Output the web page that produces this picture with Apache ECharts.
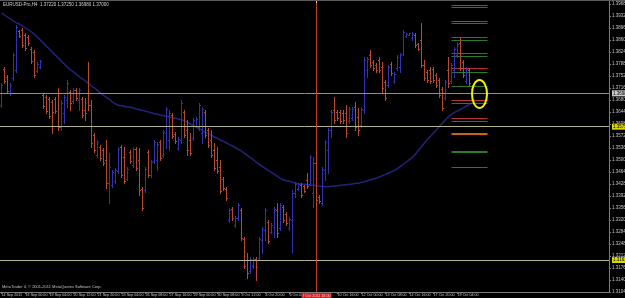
<!DOCTYPE html>
<html><head><meta charset="utf-8">
<script src="https://cdn.jsdelivr.net/npm/echarts@6/dist/echarts.min.js"></script>
<style>html,body{margin:0;padding:0;background:#000}#c{width:625px;height:298px}</style>
</head><body><div id="c"></div>
<script>
// ---------------- data ----------------
const symbolName = 'EURUSD-Pro,H4';
const copyrightText = 'MetaTrader 4, \u00a9 2001-2011 MetaQuotes Software Corp.';
// time-axis labels, one every 8 H4 bars starting at bar 0 ('' = hidden under the line label)
const timeLabels = ['14 Sep 2011','16 Sep 00:00','19 Sep 04:00','20 Sep 12:00','21 Sep 20:00',
  '23 Sep 04:00','26 Sep 08:00','27 Sep 16:00','29 Sep 00:00','30 Sep 08:00','3 Oct 12:00',
  '4 Oct 20:00','6 Oct 04:00','','10 Oct 16:00','12 Oct 00:00','13 Oct 08:00','14 Oct 16:00',
  '17 Oct 20:00','19 Oct 04:00'];
const labelEvery = 8;
const slotCount = 203; // visible bar slots incl. chart shift
// [open, high, low, close]
const ohlc = [
[1.3665,1.3731,1.3659,1.3725],[1.3773,1.3779,1.3731,1.3737],[1.3749,1.3755,1.3701,1.3707],[1.3701,1.3731,1.3695,1.3725],
[1.3746,1.3821,1.3740,1.3815],[1.3770,1.3905,1.3764,1.3899],[1.3887,1.3890,1.3869,1.3872],[1.3890,1.3896,1.3839,1.3845],
[1.3875,1.3881,1.3830,1.3836],[1.3869,1.3875,1.3845,1.3851],[1.3833,1.3839,1.3791,1.3797],[1.3824,1.3830,1.3749,1.3755],
[1.3767,1.3794,1.3764,1.3788],[1.3779,1.3800,1.3776,1.3797],[1.3695,1.3701,1.3656,1.3662],[1.3689,1.3695,1.3641,1.3647],
[1.3683,1.3689,1.3626,1.3632],[1.3674,1.3680,1.3581,1.3645],[1.3683,1.3689,1.3641,1.3647],[1.3700,1.3716,1.3590,1.3600],
[1.3600,1.3680,1.3590,1.3670],[1.3640,1.3695,1.3611,1.3689],[1.3680,1.3740,1.3659,1.3730],[1.3704,1.3710,1.3650,1.3670],
[1.3677,1.3716,1.3671,1.3710],[1.3710,1.3716,1.3680,1.3686],[1.3680,1.3716,1.3650,1.3710],[1.3683,1.3689,1.3629,1.3635],
[1.3650,1.3686,1.3620,1.3640],[1.3700,1.3794,1.3650,1.3665],[1.3665,1.3680,1.3539,1.3550],[1.3575,1.3581,1.3524,1.3530],
[1.3515,1.3560,1.3509,1.3554],[1.3539,1.3545,1.3500,1.3506],[1.3530,1.3536,1.3485,1.3491],[1.3500,1.3560,1.3416,1.3430],
[1.3430,1.3521,1.3371,1.3480],[1.3425,1.3470,1.3419,1.3464],[1.3437,1.3476,1.3431,1.3470],[1.3467,1.3539,1.3461,1.3533],
[1.3539,1.3545,1.3449,1.3455],[1.3510,1.3539,1.3431,1.3437],[1.3443,1.3479,1.3440,1.3473],[1.3524,1.3530,1.3491,1.3497],
[1.3485,1.3539,1.3479,1.3533],[1.3533,1.3539,1.3470,1.3476],[1.3500,1.3536,1.3395,1.3410],[1.3413,1.3419,1.3350,1.3356],
[1.3410,1.3479,1.3404,1.3473],[1.3524,1.3530,1.3449,1.3455],[1.3455,1.3500,1.3449,1.3494],[1.3497,1.3560,1.3491,1.3554],
[1.3500,1.3554,1.3470,1.3548],[1.3554,1.3560,1.3500,1.3506],[1.3515,1.3590,1.3509,1.3584],[1.3580,1.3659,1.3536,1.3653],
[1.3560,1.3650,1.3530,1.3640],[1.3635,1.3641,1.3566,1.3572],[1.3578,1.3584,1.3551,1.3557],[1.3536,1.3569,1.3530,1.3563],
[1.3560,1.3680,1.3551,1.3670],[1.3644,1.3650,1.3569,1.3575],[1.3590,1.3620,1.3515,1.3530],[1.3560,1.3581,1.3515,1.3521],
[1.3566,1.3626,1.3560,1.3620],[1.3602,1.3629,1.3599,1.3623],[1.3600,1.3671,1.3590,1.3665],[1.3580,1.3659,1.3551,1.3653],
[1.3644,1.3650,1.3569,1.3575],[1.3590,1.3596,1.3539,1.3545],[1.3560,1.3590,1.3509,1.3515],[1.3530,1.3551,1.3470,1.3476],
[1.3500,1.3539,1.3461,1.3467],[1.3480,1.3500,1.3401,1.3407],[1.3443,1.3449,1.3410,1.3416],[1.3413,1.3419,1.3380,1.3386],
[1.3320,1.3356,1.3314,1.3350],[1.3353,1.3359,1.3320,1.3326],[1.3305,1.3332,1.3299,1.3326],[1.3326,1.3371,1.3320,1.3365],
[1.3350,1.3356,1.3260,1.3266],[1.3263,1.3269,1.3176,1.3182],[1.3200,1.3221,1.3146,1.3160],[1.3167,1.3209,1.3161,1.3203],
[1.3182,1.3209,1.3176,1.3203],[1.3203,1.3209,1.3140,1.3180],[1.3206,1.3269,1.3200,1.3263],[1.3260,1.3299,1.3221,1.3293],
[1.3290,1.3356,1.3260,1.3350],[1.3314,1.3320,1.3251,1.3257],[1.3284,1.3311,1.3281,1.3305],[1.3300,1.3359,1.3269,1.3353],
[1.3350,1.3371,1.3269,1.3280],[1.3296,1.3371,1.3290,1.3365],[1.3359,1.3365,1.3314,1.3320],[1.3338,1.3344,1.3305,1.3311],
[1.3296,1.3329,1.3290,1.3323],[1.3320,1.3410,1.3224,1.3400],[1.3400,1.3434,1.3389,1.3428],[1.3413,1.3431,1.3410,1.3428],
[1.3425,1.3431,1.3389,1.3395],[1.3422,1.3425,1.3404,1.3407],[1.3440,1.3461,1.3416,1.3422],[1.3428,1.3515,1.3425,1.3509],
[1.3400,1.3509,1.3359,1.3490],[1.3490,1.3500,1.3344,1.3380],[1.3389,1.3395,1.3371,1.3377],[1.3371,1.3479,1.3365,1.3473],
[1.3470,1.3560,1.3440,1.3554],[1.3530,1.3596,1.3461,1.3590],[1.3590,1.3650,1.3569,1.3644],[1.3650,1.3689,1.3611,1.3620],
[1.3644,1.3650,1.3620,1.3626],[1.3644,1.3650,1.3611,1.3617],[1.3640,1.3650,1.3611,1.3620],[1.3640,1.3665,1.3569,1.3580],
[1.3617,1.3659,1.3611,1.3653],[1.3626,1.3659,1.3620,1.3653],[1.3660,1.3674,1.3590,1.3600],[1.3630,1.3656,1.3575,1.3590],
[1.3605,1.3659,1.3599,1.3653],[1.3650,1.3809,1.3641,1.3800],[1.3770,1.3809,1.3749,1.3803],[1.3815,1.3830,1.3779,1.3785],
[1.3794,1.3800,1.3770,1.3776],[1.3785,1.3791,1.3764,1.3770],[1.3800,1.3809,1.3764,1.3770],[1.3780,1.3794,1.3704,1.3715],
[1.3734,1.3740,1.3680,1.3686],[1.3725,1.3785,1.3719,1.3779],[1.3788,1.3794,1.3755,1.3761],[1.3737,1.3764,1.3731,1.3758],
[1.3776,1.3815,1.3770,1.3809],[1.3780,1.3821,1.3764,1.3815],[1.3818,1.3890,1.3815,1.3884],[1.3872,1.3881,1.3869,1.3878],
[1.3876,1.3881,1.3875,1.3880],[1.3866,1.3884,1.3860,1.3878],[1.3875,1.3881,1.3839,1.3845],[1.3848,1.3851,1.3830,1.3833],
[1.3860,1.3911,1.3779,1.3785],[1.3785,1.3800,1.3740,1.3746],[1.3764,1.3770,1.3734,1.3740],[1.3770,1.3779,1.3731,1.3737],
[1.3773,1.3779,1.3734,1.3740],[1.3755,1.3761,1.3719,1.3725],[1.3740,1.3746,1.3689,1.3695],[1.3713,1.3719,1.3650,1.3656],
[1.3686,1.3740,1.3680,1.3734],[1.3770,1.3809,1.3719,1.3730],[1.3737,1.3791,1.3731,1.3785],[1.3770,1.3839,1.3749,1.3833],
[1.3815,1.3854,1.3809,1.3848],[1.3850,1.3866,1.3770,1.3776],[1.3794,1.3800,1.3749,1.3755],[1.3737,1.3779,1.3731,1.3773],
[1.3770,1.3776,1.3725,1.3731],[1.3722,1.3725,1.3698,1.3700]
];
// moving average
const ma = [1.3941,1.3935,1.3929,1.3923,1.3917,1.3911,1.3908,1.3902,1.3896,1.3890,
1.3884,1.3877,1.3868,1.3859,1.3850,1.3841,1.3832,1.3823,1.3814,1.3805,
1.3796,1.3787,1.3778,1.3770,1.3764,1.3757,1.3749,1.3743,1.3737,1.3730,
1.3722,1.3716,1.3709,1.3701,1.3694,1.3688,1.3682,1.3674,1.3668,1.3664,
1.3663,1.3661,1.3659,1.3658,1.3656,1.3653,1.3651,1.3649,1.3646,1.3644,
1.3642,1.3639,1.3637,1.3635,1.3633,1.3631,1.3629,1.3627,1.3625,1.3623,
1.3621,1.3618,1.3613,1.3608,1.3603,1.3598,1.3593,1.3588,1.3583,1.3579,
1.3574,1.3569,1.3565,1.3560,1.3556,1.3551,1.3546,1.3542,1.3537,1.3532,
1.3527,1.3520,1.3513,1.3507,1.3500,1.3493,1.3487,1.3480,1.3474,1.3468,
1.3463,1.3457,1.3451,1.3445,1.3440,1.3438,1.3436,1.3433,1.3431,1.3429,
1.3427,1.3427,1.3426,1.3424,1.3424,1.3423,1.3421,1.3421,1.3420,1.3420,
1.3421,1.3422,1.3423,1.3424,1.3425,1.3426,1.3427,1.3428,1.3430,1.3430,
1.3433,1.3435,1.3438,1.3441,1.3443,1.3446,1.3449,1.3453,1.3457,1.3461,
1.3465,1.3469,1.3474,1.3481,1.3488,1.3494,1.3501,1.3508,1.3518,1.3529,
1.3540,1.3551,1.3562,1.3571,1.3581,1.3591,1.3601,1.3611,1.3621,1.3630,
1.3637,1.3643,1.3647,1.3652,1.3657,1.3662,1.3667,1.3671];
const bidPrice = 1.3698;
const yellowLevels = [1.3575, 1.3161];
const pivotRed = [1.3965, 1.3918, 1.3870, 1.3822, 1.3775, 1.3680, 1.3625, 1.3528, 1.3480];
const pivotGreen = [1.3960, 1.3910, 1.3860, 1.3812, 1.3765, 1.3722, 1.3670, 1.3618, 1.3523];
const pivotOrange = [1.3577];
const vLineBar = 105;
const vLineLabel = '7 Oct 2011 16:00';
// price axis
const priceMin = 1.3104, priceMax = 1.3980, priceStep = 0.0036;
// pivot segment span (bar slots) and highlight ellipse (bar slot, price)
const pivotFrom = 150, pivotTo = 162;
const ellipseBar = 159, ellipsePrice = 1.3698;

// ---------------- chart ----------------
const FONT = 'Liberation Sans';
const UP = '#3232b4', DOWN = '#b84830', MA_C = '#23237e';
const slots = Array.from({length: slotCount}, (_, i) => String(i));
const labelMap = {};
timeLabels.forEach((t, j) => { labelMap[j * labelEvery] = t; });
const last = ohlc[ohlc.length - 1];
const titleText = symbolName + '  ' + last.map(v => v.toFixed(5)).join(' ');

const chart = echarts.init(document.getElementById('c'), null, {renderer: 'canvas'});

function renderBar(params, api) {
  const k = api.value(0);
  const o = api.coord([k, api.value(1)]);
  const h = api.coord([k, api.value(2)]);
  const l = api.coord([k, api.value(3)]);
  const c = api.coord([k, api.value(4)]);
  const x = Math.floor(h[0]) + 0.5;
  const color = api.value(4) >= api.value(1) ? UP : DOWN;
  const oy = Math.round(o[1]) + 0.5, cy = Math.round(c[1]) + 0.5;
  return {type: 'group', children: [
    {type: 'line', shape: {x1: x, y1: Math.round(h[1]), x2: x, y2: Math.round(l[1]) + 1}, style: {stroke: color, lineWidth: 1}},
    {type: 'line', shape: {x1: x - 1.5, y1: oy, x2: x, y2: oy}, style: {stroke: color, lineWidth: 1}},
    {type: 'line', shape: {x1: x, y1: cy, x2: x + 1.5, y2: cy}, style: {stroke: color, lineWidth: 1}}
  ]};
}
function pivotSeries(levels, color, width) {
  return {
    type: 'custom', silent: true, z: 3,
    data: levels.map(p => [pivotFrom, p]),
    encode: {x: 0, y: 1},
    renderItem: (params, api) => {
      const p = api.value(1);
      const a = api.coord([pivotFrom, p]);
      const b = api.coord([pivotTo, p]);
      const y = Math.round(a[1]) + (width % 2 ? 0.5 : 0);
      return {type: 'line', shape: {x1: a[0], y1: y, x2: b[0], y2: y}, style: {stroke: color, lineWidth: width}};
    }
  };
}
function levelLine(value, color, bg) {
  return {
    yAxis: value,
    lineStyle: {color: color, width: 1, type: 'solid'},
    label: {show: true, position: 'end', distance: 3, formatter: () => value.toFixed(5),
      backgroundColor: bg, color: '#000', fontSize: 4.5, fontFamily: FONT, padding: [1, 1, 0, 1]}
  };
}

chart.setOption({
  animation: false,
  backgroundColor: '#000000',
  grid: {left: 0, right: 16, top: 0, bottom: 6, containLabel: false, outerBoundsMode: 'none'},
  xAxis: {
    type: 'category', data: slots, boundaryGap: true,
    axisLine: {show: true, lineStyle: {color: '#7a7a7a'}},
    axisTick: {show: true, alignWithLabel: true, length: 2, interval: i => labelMap[i] !== undefined, lineStyle: {color: '#7a7a7a'}},
    axisLabel: {interval: i => !!labelMap[i], formatter: (v, i) => labelMap[i] || '', align: 'left',
      margin: 1, fontSize: 3.7, color: '#c4c4c4', fontFamily: FONT, hideOverlap: false},
    splitLine: {show: false}
  },
  yAxis: {
    type: 'value', position: 'right', min: priceMin, max: priceMax, interval: priceStep, scale: true,
    axisLine: {show: true, lineStyle: {color: '#7a7a7a'}},
    axisTick: {show: true, length: 2, lineStyle: {color: '#7a7a7a'}},
    axisLabel: {showMaxLabel: false, fontSize: 4.5, color: '#c4c4c4', fontFamily: FONT, margin: 3,
      formatter: v => v.toFixed(5)},
    splitLine: {show: false}
  },
  graphic: [
    {type: 'rect', left: 0, top: 0, shape: {width: 625, height: 1}, style: {fill: '#5a5a5a'}, z: 10},
    {type: 'text', left: 3, top: 2, style: {text: titleText, fill: '#d0d0d0', fontSize: 4.5, fontFamily: FONT}, z: 10},
    {type: 'text', left: 2, top: 285, style: {text: copyrightText, fill: '#c0c0c0', fontSize: 4, fontFamily: FONT}, z: 10}
  ],
  series: [
    {
      type: 'line', data: ma, showSymbol: false, symbol: 'none', silent: true, z: 2,
      lineStyle: {color: MA_C, width: 1.5},
      markLine: {
        silent: true, symbol: 'none', animation: false,
        data: [
          levelLine(bidPrice, '#8e8e8e', '#c8c8c8'),
          levelLine(yellowLevels[0], '#b4b48c', '#d8d800'),
          levelLine(yellowLevels[1], '#b4b48c', '#d8d800')
        ]
      }
    },
    {
      type: 'custom', silent: true, z: 4,
      data: ohlc.map((d, i) => [i, d[0], d[1], d[2], d[3]]),
      encode: {x: 0, y: [2, 3]},
      renderItem: renderBar
    },
    pivotSeries(pivotRed, '#b83030', 1),
    pivotSeries(pivotGreen, '#2a7a2a', 1),
    pivotSeries(pivotOrange, '#c86420', 2),
    {
      type: 'custom', silent: true, z: 6, clip: false,
      data: [[vLineBar, priceMax]],
      encode: {x: 0, y: 1},
      renderItem: (params, api) => {
        const p = api.coord([api.value(0), api.value(1)]);
        const cs = params.coordSys;
        const x = Math.floor(p[0]) + 0.5;
        const bottom = cs.y + cs.height;
        return {type: 'group', children: [
          {type: 'line', shape: {x1: x, y1: cs.y, x2: x, y2: bottom}, style: {stroke: '#c04028', lineWidth: 1}},
          {type: 'rect', shape: {x: x - 0.5, y: cs.y + 1, width: 1, height: 2}, style: {fill: '#f0d0d0'}},
          {type: 'rect', shape: {x: x - 15, y: bottom + 1, width: 30, height: 6}, style: {fill: '#d02020'}},
          {type: 'text', x: x, y: bottom + 4.3, style: {text: vLineLabel, fill: '#f4c8c8', fontSize: 3.7,
            fontFamily: FONT, align: 'center', verticalAlign: 'middle'}}
        ]};
      }
    },
    {
      type: 'custom', silent: true, z: 7, clip: false,
      data: [[ellipseBar, ellipsePrice]],
      encode: {x: 0, y: 1},
      renderItem: (params, api) => {
        const c = api.coord([api.value(0), api.value(1)]);
        const s = api.size([1, 0.0042]);
        return {type: 'ellipse', shape: {cx: c[0] + 1, cy: c[1], rx: s[0] * 2.5, ry: s[1]},
          style: {fill: null, stroke: '#f2f200', lineWidth: 2}};
      }
    }
  ]
});
</script>
</body></html>
